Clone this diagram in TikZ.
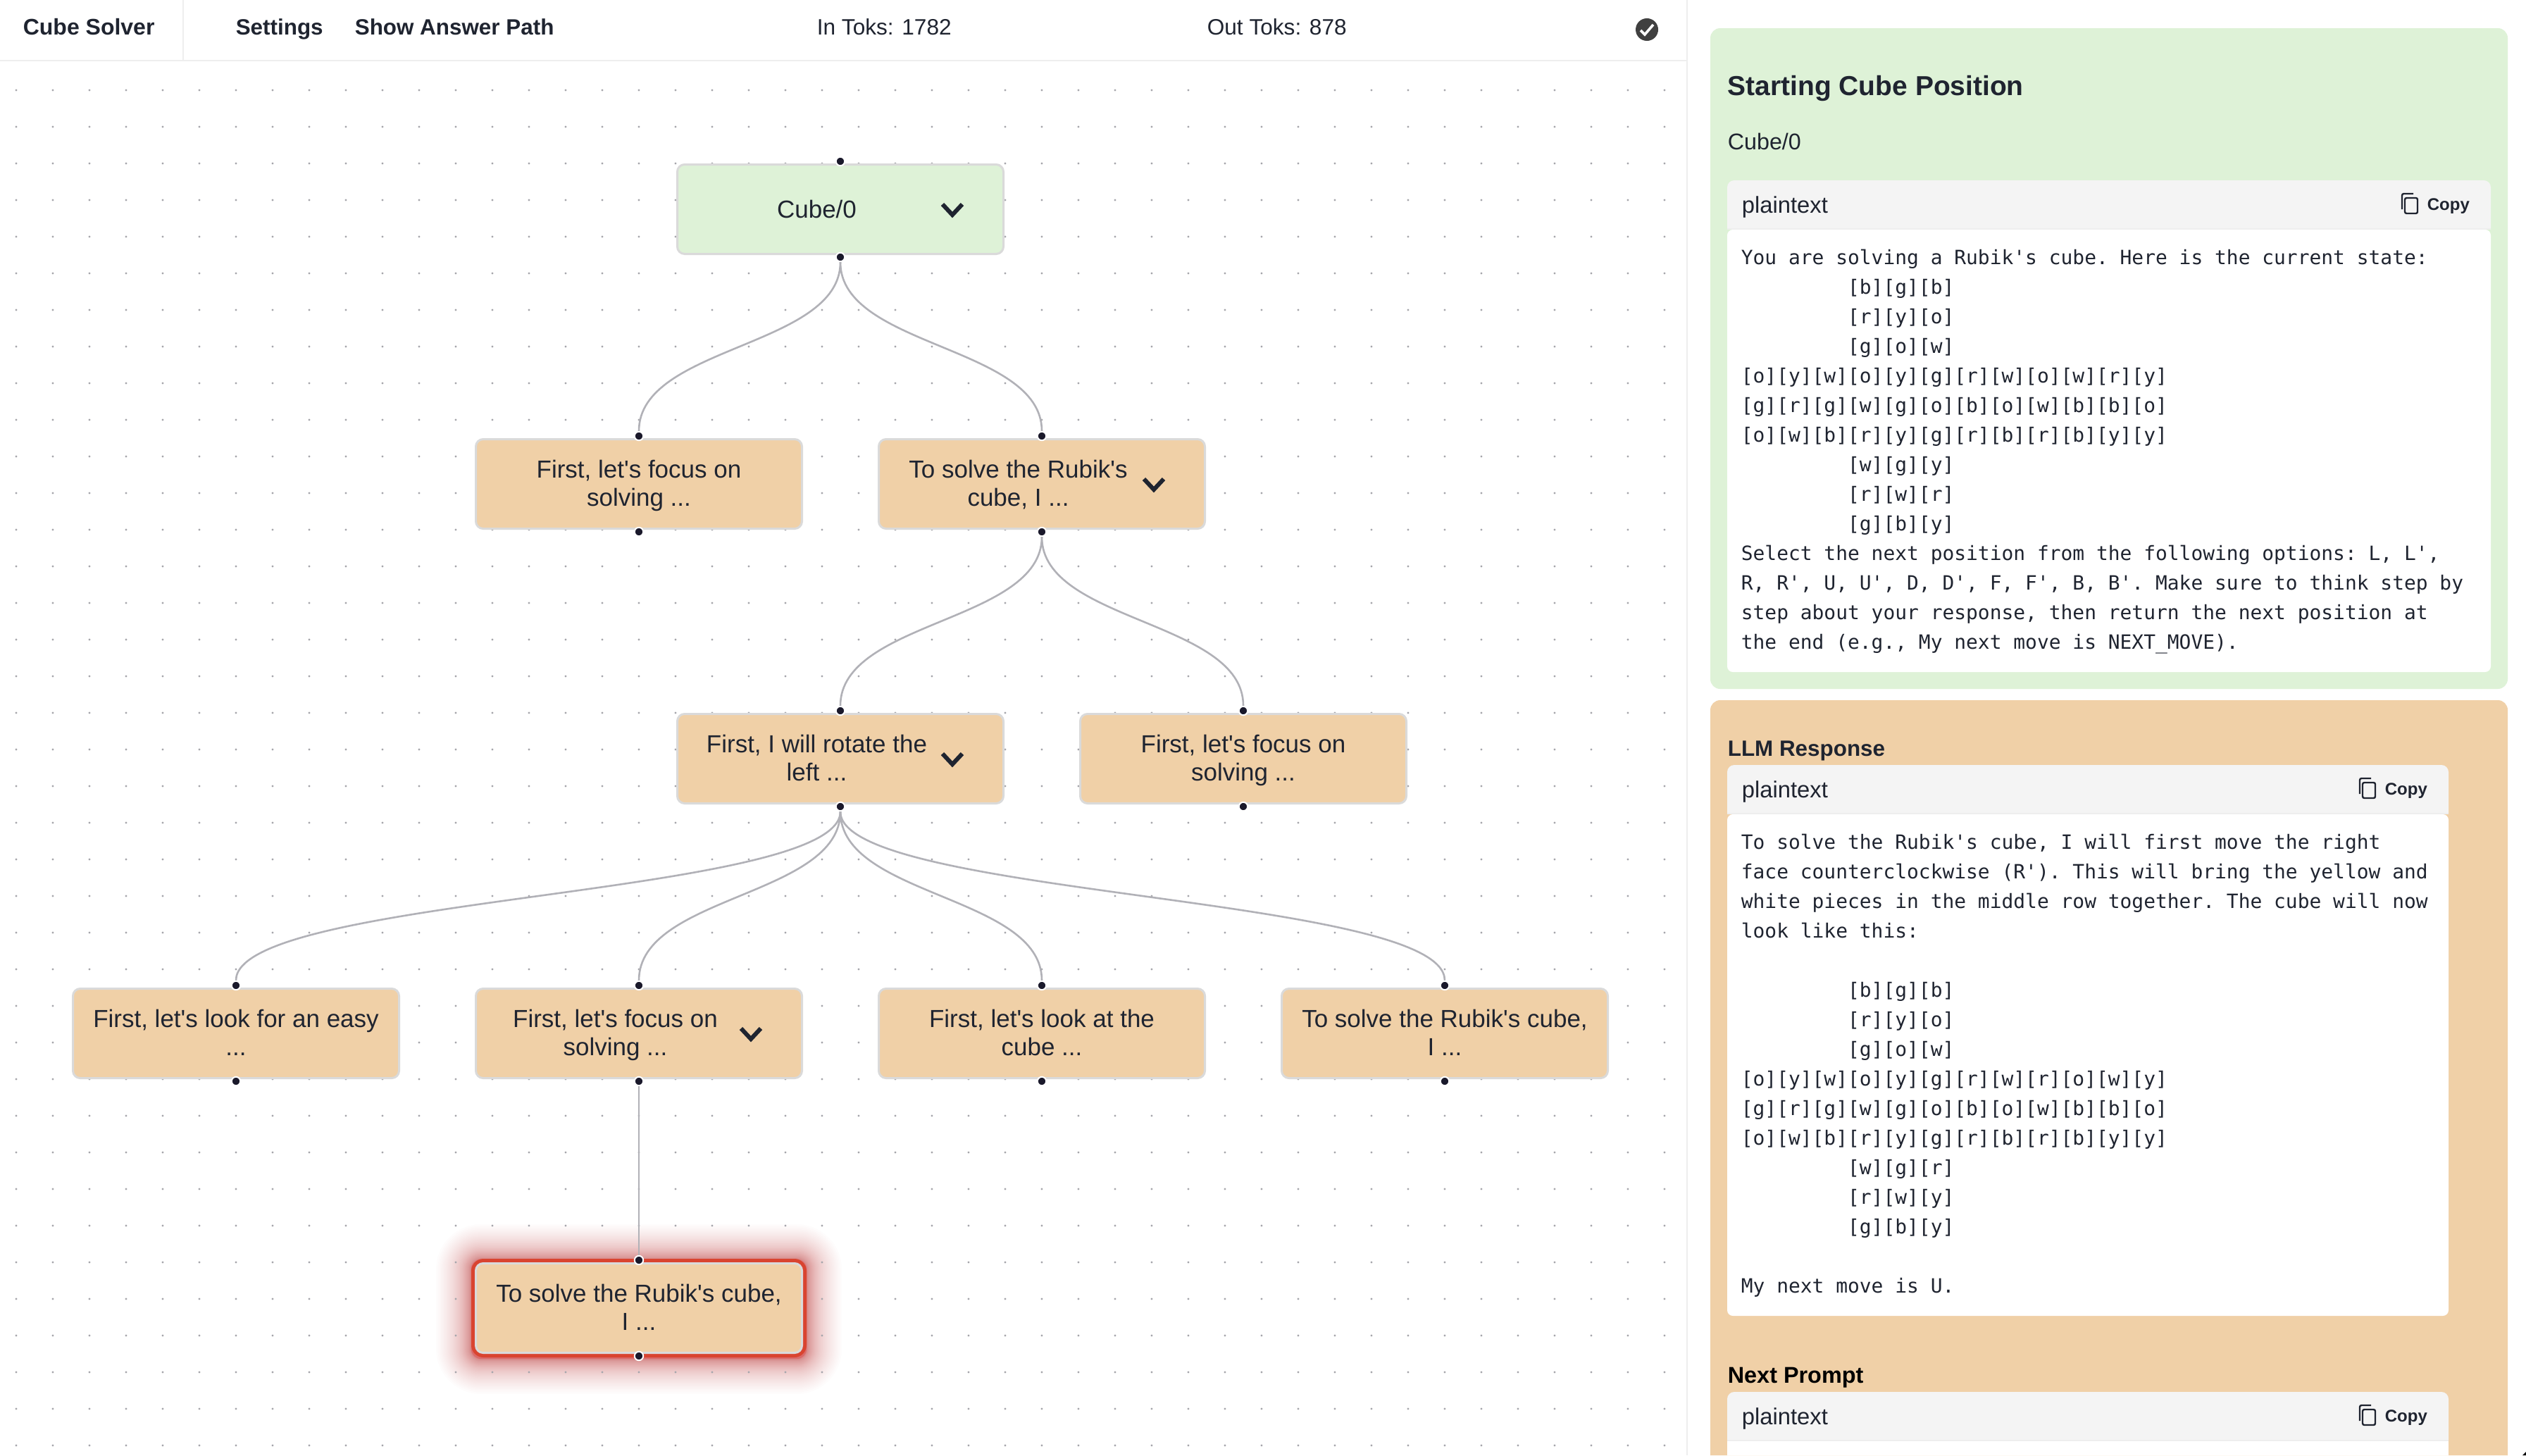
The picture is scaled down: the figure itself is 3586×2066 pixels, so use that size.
\documentclass[tikz,border=0pt]{standalone}
\usepackage{fontspec}
\newfontfamily\uifont{Liberation Sans}
\setmonofont{DejaVu Sans Mono}
\definecolor{inkc}{HTML}{1F2430}
\definecolor{greenc}{HTML}{DEF2D7}
\definecolor{orangec}{HTML}{F0D0A7}
\definecolor{borderc}{HTML}{DADADA}
\definecolor{linec}{HTML}{EEEEEE}
\definecolor{edgec}{HTML}{B1B1B7}
\definecolor{handlec}{HTML}{1A192B}
\definecolor{dotc}{HTML}{A6A6AC}
\definecolor{hdrc}{HTML}{F4F4F4}
\definecolor{redc}{HTML}{D94430}
\newcommand{\cubeind}{\phantom{000000000}}
\tikzset{
  twoline/.style={text height=15.5pt,text depth=0pt},
  stepbox/.style={draw=borderc,line width=.75pt,rounded corners=2.6pt,fill=orangec,minimum width=115.75pt,minimum height=31.75pt,inner sep=0pt,align=center,text=inkc,font=\uifont\fontsize{8.75}{10}\selectfont,twoline},
  rootbox/.style={stepbox,fill=greenc},
  redbox/.style={draw=redc,line width=1.5pt,rounded corners=3.6pt,fill=orangec,minimum width=117.5pt,minimum height=33.5pt,inner sep=0pt},
  boxtext/.style={inner sep=0pt,align=center,text=inkc,font=\uifont\fontsize{8.75}{10}\selectfont},
  handle/.style={circle,fill=handlec,draw=white,line width=.5pt,minimum size=3.1pt,inner sep=0pt},
  edgeline/.style={draw=edgec,line width=.65pt},
  chev/.style={draw=inkc,line width=1.5pt},
  topbold/.style={anchor=base west,inner sep=0pt,text=inkc,font=\uifont\fontsize{7.85}{10}\selectfont\bfseries},
  topplain/.style={anchor=base west,inner sep=0pt,text=inkc,font=\uifont\fontsize{7.9}{10}\selectfont},
  codetext/.style={anchor=north west,inner sep=0pt,align=left,text=inkc,font=\fontsize{6.98}{10.5}\selectfont\ttfamily},
}
\begin{document}
\begin{tikzpicture}[x=.25pt,y=-.25pt]
\useasboundingbox (0,0) rectangle (3586,2066);
\fill[white] (0,0) rectangle (3586,2066);
% glow under the last box
\foreach \k in {1,...,60} {
  \pgfmathsetmacro{\rr}{50*(\k/60)*(\k/60)*(\k/60)}
  \fill[red!85!black,opacity=.01,rounded corners={(14+\rr)*.25pt}] (669-\rr,1788-\rr) rectangle (1145+\rr,1929+\rr);
}
% canvas dots
\foreach \k in {0,...,45}
  \foreach \m in {0,...,37}
    \fill[dotc] (23+52*\k,128+52*\m) circle (.4pt);
% top bar
\draw[linec,line width=.5pt] (260,0) -- (260,86);
\draw[linec,line width=.5pt] (0,86) -- (2394,86);
\draw[linec,line width=.5pt] (2395,0) -- (2395,2066);
\draw (32,50) node[topbold,font=\uifont\fontsize{8}{10}\selectfont\bfseries] (Title) {Cube Solver};
\draw (334,50) node[topbold] (Settings) {Settings};
\draw (503,50) node[topbold] (AnswerPath) {Show Answer Path};
\draw (1159,50) node[topplain] (InToks) {In Toks: 1782};
\draw (1713,50) node[topplain] (OutToks) {Out Toks: 878};
\fill[black!75] (2338,42) circle (4pt);
\draw[white,line width=.9pt] (2329,43) -- (2335,49) -- (2347,35);
% tree boxes
\draw (907,1857) node[redbox] (Pred) {};
\draw (1193,297) node[rootbox] (P1) {};
\draw (907,687) node[stepbox] (P11) {First, let's focus on\\solving ...};
\draw (1479,687) node[stepbox] (P12) {};
\draw (1193,1077) node[stepbox] (P121) {};
\draw (1765,1077) node[stepbox] (P122) {First, let's focus on\\solving ...};
\draw (335,1467) node[stepbox] (P1211) {First, let's look for an easy\\...};
\draw (907,1467) node[stepbox] (P1212) {};
\draw (1479,1467) node[stepbox] (P1213) {First, let's look at the\\cube ...};
\draw (2051,1467) node[stepbox] (P1214) {To solve the Rubik's cube,\\I ...};
\draw (907,1857) node[stepbox] (P12121) {To solve the Rubik's cube,\\I ...};
\draw (1159.5,297) node[boxtext] (P1x) {Cube/0};
\draw (1445.5,687) node[boxtext,twoline] (P12x) {To solve the Rubik's\\cube, I ...};
\draw (1159.5,1077) node[boxtext,twoline] (P121x) {First, I will rotate the\\left ...};
\draw (873.5,1467) node[boxtext,twoline] (P1212x) {First, let's focus on\\solving ...};
\foreach \n in {P1,P12,P121,P1212}
  \draw[chev] ([shift={(145,-7)}]\n.center) -- ++(14,15) -- ++(14,-15);
% handles
\foreach \n in {P1,P11,P12,P121,P122,P1211,P1212,P1213,P1214,P12121} {
  \node[handle] (\n t) at ([yshift=.75pt]\n.north) {};
  \node[handle] (\n b) at ([yshift=-.75pt]\n.south) {};
}
\foreach \a/\b in {P1/P11,P1/P12,P12/P121,P12/P122,P121/P1211,P121/P1212,P121/P1213,P121/P1214,P1212/P12121}
  \draw[edgeline] (\a b.south) .. controls +(0,121) and +(0,-121) .. (\b t.north);
% right side panels
\fill[greenc,rounded corners=3.5pt] (2428,40) rectangle (3560,978);
\fill[orangec] (2428,2066) {[rounded corners=3.5pt] -- (2428,994) -- (3560,994)} -- (3560,2066) -- cycle;
\draw (2452,135) node[topbold,font=\uifont\fontsize{9.74}{12}\selectfont\bfseries] (PanelHead) {Starting Cube Position};
\draw (2452,212) node[topplain,font=\uifont\fontsize{8.07}{10}\selectfont] (PanelName) {Cube/0};
\draw (2452,1073) node[topbold] (LLMHead) {LLM Response};
\draw (2452,1963) node[topbold,text=black,font=\uifont\fontsize{8.1}{10}\selectfont\bfseries] (NextHead) {Next Prompt};
% code block heads
\foreach \hn/\hx/\hy in {A/3536/256,B/3476/1086,C/3476/1976} {
  \fill[hdrc] (2452,\hy+69) {[rounded corners=2.5pt] -- (2452,\hy) -- (\hx,\hy)} -- (\hx,\hy+69) -- cycle;
  \draw[linec,line width=.5pt] (2452,\hy+69) -- (\hx,\hy+69);
  \draw (2472,\hy+46) node[topplain,font=\uifont\fontsize{8.2}{10}\selectfont] (Lang\hn) {plaintext};
  \draw (\hx-91,\hy+42) node[topbold,font=\uifont\fontsize{6}{8}\selectfont\bfseries] (Copy\hn) {Copy};
  \draw[inkc,line width=.6pt,rounded corners=.6pt] (\hx-122,\hy+25) rectangle (\hx-104,\hy+47);
  \draw[inkc,line width=.6pt,rounded corners=.6pt] (\hx-126,\hy+41) -- (\hx-126,\hy+19) -- (\hx-110,\hy+19);
}
% code block bodies
\fill[white,rounded corners=2pt] (2452,326) rectangle (3536,954);
\fill[white,rounded corners=2pt] (2452,1156) rectangle (3476,1868);
\fill[white] (2452,2046) rectangle (3476,2066);
\draw (2471,353) node[codetext] (CodeA) {You are solving a Rubik's cube. Here is the current state:\\
\cubeind[b][g][b]\\
\cubeind[r][y][o]\\
\cubeind[g][o][w]\\
\relax[o][y][w][o][y][g][r][w][o][w][r][y]\\
\relax[g][r][g][w][g][o][b][o][w][b][b][o]\\
\relax[o][w][b][r][y][g][r][b][r][b][y][y]\\
\cubeind[w][g][y]\\
\cubeind[r][w][r]\\
\cubeind[g][b][y]\\
Select the next position from the following options: L, L',\\
R, R', U, U', D, D', F, F', B, B'. Make sure to think step by\\
step about your response, then return the next position at\\
the end (e.g., My next move is NEXT\_MOVE).};
\draw (2471,1183) node[codetext] (CodeB) {To solve the Rubik's cube, I will first move the right\\
face counterclockwise (R'). This will bring the yellow and\\
white pieces in the middle row together. The cube will now\\
look like this:\\
\mbox{}\\
\cubeind[b][g][b]\\
\cubeind[r][y][o]\\
\cubeind[g][o][w]\\
\relax[o][y][w][o][y][g][r][w][r][o][w][y]\\
\relax[g][r][g][w][g][o][b][o][w][b][b][o]\\
\relax[o][w][b][r][y][g][r][b][r][b][y][y]\\
\cubeind[w][g][r]\\
\cubeind[r][w][y]\\
\cubeind[g][b][y]\\
\mbox{}\\
My next move is U.};
\fill[black] (3581,2066) -- (3586,2061) -- (3586,2066) -- cycle;
\end{tikzpicture}
\end{document}
